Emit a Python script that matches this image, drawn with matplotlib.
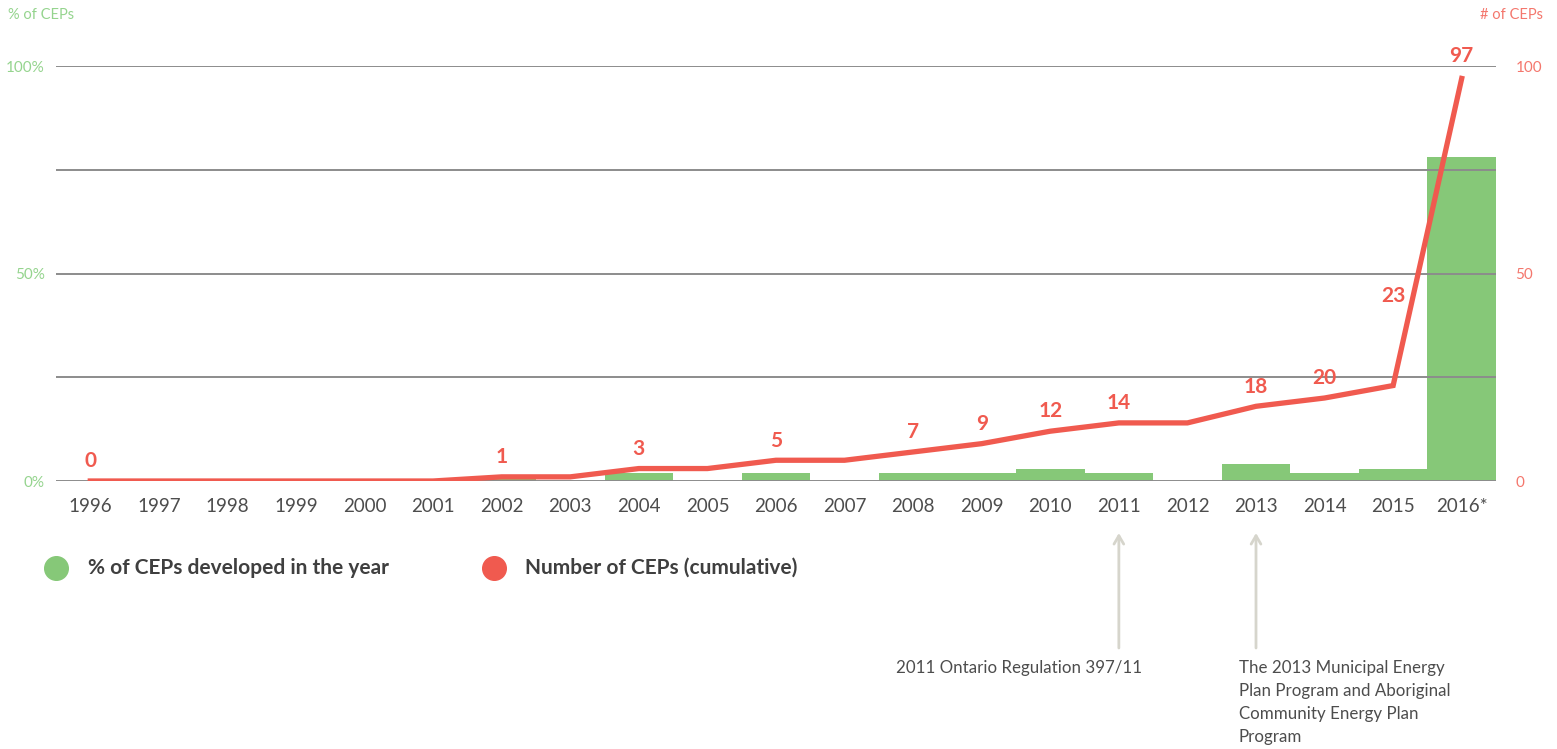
import matplotlib
matplotlib.use("Agg")
import matplotlib.pyplot as plt
from matplotlib.lines import Line2D

years = ['1996', '1997', '1998', '1999', '2000', '2001', '2002', '2003', '2004', '2005',
         '2006', '2007', '2008', '2009', '2010', '2011', '2012', '2013', '2014', '2015', '2016*']
pct_in_year = [0, 0, 0, 0, 0, 0, 1, 0, 2, 0, 2, 0, 2, 2, 3, 2, 0, 4, 2, 3, 78]
cumulative = [0, 0, 0, 0, 0, 0, 1, 1, 3, 3, 5, 5, 7, 9, 12, 14, 14, 18, 20, 23, 97]
labelled = ['1996', '2002', '2004', '2006', '2008', '2009', '2010', '2011', '2013', '2014', '2015', '2016*']

green = '#86c878'
red = '#f05a4f'
grey_text = '#4d4d4d'

plt.rcParams['font.family'] = ['Lato', 'DejaVu Sans']

W, H = 1557, 749
fig = plt.figure(figsize=(W / 100, H / 100), dpi=100)
ax = fig.add_axes([56 / W, 1 - 481 / H, 1440 / W, 415 / H])
ax2 = ax.twinx()

x = list(range(len(years)))
ax.bar(x, pct_in_year, width=1.0, color=green, zorder=1)
for g in [0, 25, 50, 75, 100]:
    ax.axhline(g, color='#8c8c8c', lw=1.4, zorder=2)

ax.set_xlim(-0.5, len(years) - 0.5)
ax.set_ylim(0, 100)
ax.set_yticks([0, 50, 100])
ax.set_yticklabels(['0%', '50%', '100%'])
ax.set_xticks(x)
ax.set_xticklabels(years)
ax.tick_params(axis='x', length=0, pad=12, labelsize=13.5, labelcolor=grey_text)
ax.tick_params(axis='y', length=0, pad=8, labelsize=11, labelcolor='#95d48e')
for s in ax.spines.values():
    s.set_visible(False)

ax2.plot(x, cumulative, color=red, lw=3.8, zorder=5, solid_joinstyle='miter')
ax2.set_ylim(0, 100)
ax2.set_yticks([0, 50, 100])
ax2.tick_params(axis='y', length=0, pad=14, labelsize=11, labelcolor='#f4776d')
for s in ax2.spines.values():
    s.set_visible(False)

for i, yr in enumerate(years):
    if yr not in labelled:
        continue
    dy = 7
    if yr == '2015':
        dy = 57
    if yr == '2016*':
        dy = 9
    ax2.annotate(str(cumulative[i]), (i, cumulative[i]), xytext=(0, dy),
                 textcoords='offset points', ha='center', va='bottom',
                 color=red, fontsize=15, fontweight='bold', annotation_clip=False)

fig.text(8 / W, 1 - 15 / H, '% of CEPs', color='#95d48e', fontsize=10.5, va='center', ha='left')
fig.text(1543 / W, 1 - 15 / H, '# of CEPs', color='#f4776d', fontsize=10.5, va='center', ha='right')

# legend
fig.add_artist(Line2D([56 / W], [1 - 568 / H], marker='o', ms=17, color=green, transform=fig.transFigure))
fig.text(88 / W, 1 - 568 / H, '% of CEPs developed in the year', color='#3f3f3f',
         fontsize=15, fontweight='bold', va='center')
fig.add_artist(Line2D([494 / W], [1 - 568 / H], marker='o', ms=17, color=red, transform=fig.transFigure))
fig.text(525 / W, 1 - 568 / H, 'Number of CEPs (cumulative)', color='#3f3f3f',
         fontsize=15, fontweight='bold', va='center')

# policy arrows
arrow = dict(arrowstyle='->,head_length=0.6,head_width=0.35', color='#d6d5cc', lw=2,
             shrinkA=0, shrinkB=0)
for yr in ['2011', '2013']:
    i = years.index(yr)
    ax.annotate('', xy=(i, 1 - 533 / H), xycoords=('data', 'figure fraction'),
                xytext=(i, 1 - 648 / H), textcoords=('data', 'figure fraction'),
                arrowprops=arrow, annotation_clip=False)

fig.text(896 / W, 1 - 668 / H, '2011 Ontario Regulation 397/11', color=grey_text,
         fontsize=12.2, va='center', ha='left')
fig.text(1239 / W, 1 - 660 / H,
         'The 2013 Municipal Energy\nPlan Program and Aboriginal\nCommunity Energy Plan\nProgram',
         color=grey_text, fontsize=12.2, va='top', ha='left', linespacing=1.55)

fig.savefig('out.png', dpi=100, facecolor='white')
